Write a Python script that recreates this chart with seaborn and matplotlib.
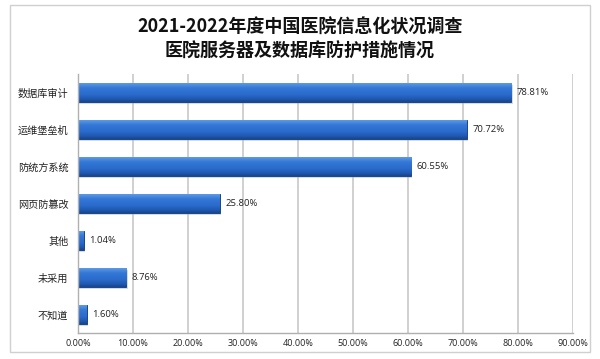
import matplotlib
matplotlib.use("Agg")
import matplotlib.pyplot as plt
import seaborn as sns
import pandas as pd
import numpy as np
from matplotlib.patches import Rectangle
from matplotlib.colors import LinearSegmentedColormap

categories = ["数据库审计", "运维堡垒机", "防统方系统", "网页防篡改", "其他", "未采用", "不知道"]
values = [78.81, 70.72, 60.55, 25.80, 1.04, 8.76, 1.60]
xticks = [0, 10, 20, 30, 40, 50, 60, 70, 80, 90]
title = "2021-2022年度中国医院信息化状况调查\n医院服务器及数据库防护措施情况"

sns.set_theme(style="white")
plt.rcParams['font.family'] = ['Noto Sans CJK SC', 'DejaVu Sans']

df = pd.DataFrame({"cat": categories, "val": values})

fig = plt.figure(figsize=(6.0, 3.59), dpi=100)
fig.patch.set_facecolor("white")
fig.add_artist(Rectangle((0.017, 0.02), 0.966, 0.965, transform=fig.transFigure,
                         fill=False, edgecolor="#d0d0d0", lw=1.0))
ax = fig.add_axes([0.13, 0.072, 0.825, 0.722])

sns.barplot(data=df, x="val", y="cat", ax=ax, color="#2a6bcc", width=0.5,
            edgecolor="#1a4689", linewidth=0.7, saturation=1)

# vertical gradient fill on each bar (light top -> dark bottom)
cmap = LinearSegmentedColormap.from_list(
    "barg", [(0.0, "#5d9be6"), (0.25, "#3478d6"), (0.6, "#2a6bcc"),
             (0.85, "#1f59b0"), (1.0, "#18448a")])
grad = np.linspace(0, 1, 64).reshape(-1, 1)
for p in list(ax.patches):
    x0, y0 = p.get_x(), p.get_y()
    w, h = p.get_width(), p.get_height()
    ax.add_patch(Rectangle((x0 + 0.25, y0 + 0.05), w, h, facecolor="#9aa6b8",
                           edgecolor="none", alpha=0.4, zorder=p.get_zorder() - 0.1))
    im = ax.imshow(grad, extent=(x0, x0 + w, y0, y0 + h), aspect="auto",
                   cmap=cmap, origin="lower", zorder=p.get_zorder() + 0.05,
                   interpolation="bicubic")
    im.set_clip_path(p)

ax.set_xlim(0, 90)
ax.set_ylim(len(categories) - 0.5, -0.5)
ax.set_xticks(xticks)
ax.set_xticklabels([f"{t:.2f}%" for t in xticks], fontsize=6.5, color="#222222",
                   family=['Open Sans', 'DejaVu Sans'])
ax.tick_params(axis='x', length=0, pad=4)
ax.tick_params(axis='y', length=0, pad=7)
for lab in ax.get_yticklabels():
    lab.set_fontsize(7.3)
    lab.set_color("#222222")
ax.set_xlabel("")
ax.set_ylabel("")
ax.grid(axis='x', color="#c8c8c8", lw=1.2)
ax.set_axisbelow(True)
for s in ["top", "right"]:
    ax.spines[s].set_visible(False)
for s in ["left", "bottom"]:
    ax.spines[s].set_color("#b0b0b0")
    ax.spines[s].set_linewidth(1.0)

ax.set_yticks(np.arange(-0.5, len(categories), 1.0), minor=True)
ax.tick_params(axis='y', which='minor', length=3, color="#b0b0b0", direction='out')

for i, v in enumerate(values):
    ax.text(v + 1.0, i, f"{v:.2f}%", va="center", ha="left", fontsize=6.8,
            color="#222222", family=['Open Sans', 'DejaVu Sans'])

fig.text(0.5, 0.89, title, ha="center", va="center", fontsize=13, fontweight="bold",
         linespacing=1.3, color="#111111")

fig.savefig("out.png", dpi=100)
